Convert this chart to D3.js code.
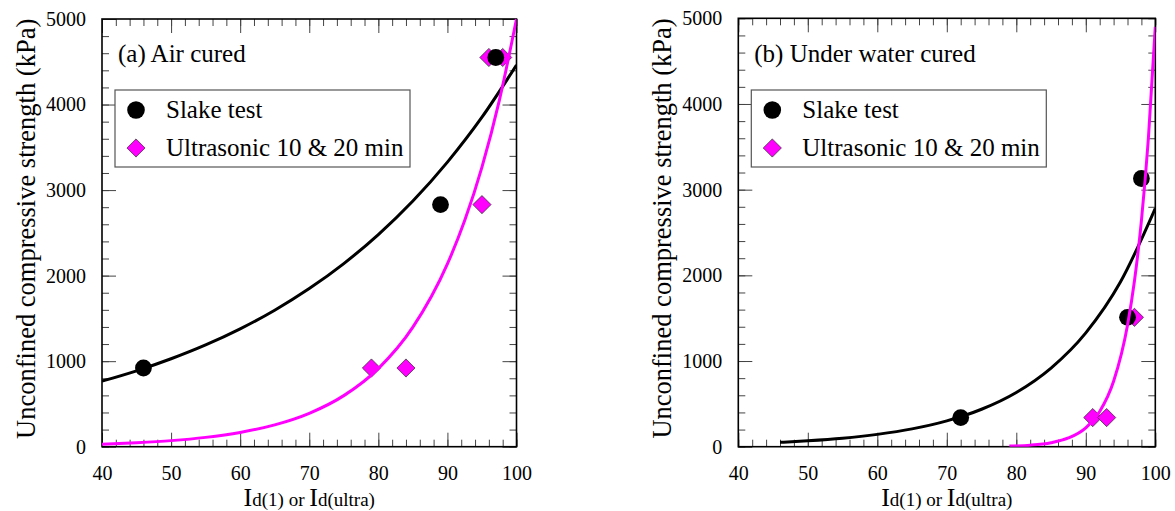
<!DOCTYPE html>
<html>
<head>
<meta charset="utf-8">
<script src="https://cdn.jsdelivr.net/npm/d3@7"></script>
<style>
  body { margin: 0; background: #fff; }
  text { font-family: "Liberation Serif", "Times New Roman", serif; fill: #000; }
</style>
</head>
<body>
<svg id="svg" width="1175" height="511"></svg>
<script>
var xMajor = [40, 50, 60, 70, 80, 90, 100];
var xMinor = d3.range(40, 101, 2);
var yMajor = [0, 1000, 2000, 3000, 4000, 5000];
var yMinor = d3.range(0, 5001, 200);

// (a) air cured
var slakeAx = [46, 89, 97];
var slakeAy = [920, 2830, 4550];
var ultraAx = [79, 84, 95, 96, 98];
var ultraAy = [920, 920, 2830, 4550, 4550];
// trend lines
var fitSlakeAx = [40, 45, 50, 55, 60, 65, 70, 75, 80, 85, 90, 95, 100];
var fitSlakeAy = [766, 887, 1028, 1190, 1378, 1596, 1849, 2141, 2480, 2872, 3327, 3852, 4462];
var fitUltraAx = [40, 45, 50, 55, 60, 65, 70, 75, 80, 85, 90, 92.5, 95, 97.5, 100];
var fitUltraAy = [30, 47, 71, 109, 167, 255, 390, 597, 913, 1397, 2137, 2643, 3269, 4043, 5000];

// (b) under water cured
var slakeBx = [72, 96, 98];
var slakeBy = [340, 1510, 3130];
var ultraBx = [91, 93, 97];
var ultraBy = [340, 340, 1510];
var fitSlakeBx = [46, 50, 55, 60, 65, 70, 75, 80, 85, 90, 95, 100];
var fitSlakeBy = [51, 69, 99, 144, 208, 302, 437, 633, 918, 1329, 1925, 2782];
var fitUltraBx = [79, 82, 85, 87.5, 90, 92, 94, 96, 97, 98, 99, 100];
var fitUltraBy = [7, 18, 47, 102, 221, 410, 763, 1418, 1934, 2636, 3594, 4900];

var svg = d3.select("#svg");
var MAG = "#ff00ff";

var drawPanel = function(p) {
  var x = d3.scaleLinear().domain([40, 100]).range([p.left, p.right]);
  var y = d3.scaleLinear().domain([0, 5000]).range([p.bottom, p.top]);
  var g = svg.append("g");

  var ax = function(gen, tx, ty, vals, size, fmt) {
    var a = g.append("g").attr("transform", "translate(" + tx + "," + ty + ")")
      .call(gen.tickValues(vals).tickSize(size).tickSizeOuter(0).tickFormat(fmt));
    a.select(".domain").remove();
    a.selectAll("line").attr("stroke", "#444").attr("stroke-width", 1);
    return a;
  };
  var none = function() { return ""; };

  ax(d3.axisBottom(x), 0, p.bottom, xMinor, -7, none);
  ax(d3.axisTop(x), 0, p.top, xMinor, -7, none);
  ax(d3.axisLeft(y), p.left, 0, yMinor, -7, none);
  ax(d3.axisRight(y), p.right, 0, yMinor, -7, none);
  ax(d3.axisBottom(x), 0, p.bottom, xMajor, -14, d3.format("d"))
    .call(function(a) { a.selectAll(".tick text").attr("y", 19); });
  ax(d3.axisTop(x), 0, p.top, xMajor, -14, none);
  ax(d3.axisLeft(y), p.left, 0, yMajor, -14, d3.format("d"))
    .call(function(a) { a.selectAll(".tick text").attr("x", -16); });
  ax(d3.axisRight(y), p.right, 0, yMajor, -14, none);
  g.selectAll(".tick text").attr("font-size", 20).attr("font-family", "Liberation Serif").attr("fill", "#000");

  g.append("rect").attr("x", p.left).attr("y", p.top)
    .attr("width", p.right - p.left).attr("height", p.bottom - p.top)
    .attr("fill", "none").attr("stroke", "#000").attr("stroke-width", 1.6);

  var clipId = "clip" + p.id;
  svg.append("clipPath").attr("id", clipId).append("rect")
    .attr("x", p.left).attr("y", p.top - 2).attr("width", p.right - p.left).attr("height", p.bottom - p.top + 2);

  // markers
  var diamond = d3.symbol().type(d3.symbolSquare).size(165);
  g.selectAll(".dia").data(d3.zip(p.ux, p.uy)).enter().append("path")
    .attr("d", diamond)
    .attr("transform", function(d) { return "translate(" + x(d[0]) + "," + y(d[1]) + ") rotate(45)"; })
    .attr("fill", MAG).attr("stroke", "#333").attr("stroke-width", 0.7);
  g.selectAll(".dot").data(d3.zip(p.sx, p.sy)).enter().append("circle")
    .attr("cx", function(d) { return x(d[0]); })
    .attr("cy", function(d) { return y(d[1]); })
    .attr("r", 8.4).attr("fill", "#000");

  // trend lines
  var line = d3.line().x(function(d) { return x(d[0]); }).y(function(d) { return y(d[1]); })
    .curve(d3.curveMonotoneX);
  g.append("path").datum(d3.zip(p.fsx, p.fsy)).attr("d", line)
    .attr("fill", "none").attr("stroke", "#000").attr("stroke-width", 3)
    .attr("clip-path", "url(#" + clipId + ")");
  g.append("path").datum(d3.zip(p.fux, p.fuy)).attr("d", line)
    .attr("fill", "none").attr("stroke", MAG).attr("stroke-width", 3)
    .attr("clip-path", "url(#" + clipId + ")");

  // panel title
  g.append("text").attr("x", p.left + 16).attr("y", 62).attr("font-size", 25).text(p.title);

  // legend
  var lx = p.left + 13, ly0 = 90;
  g.append("rect").attr("x", lx).attr("y", ly0).attr("width", 295).attr("height", 77)
    .attr("fill", "#fff").attr("stroke", "#555").attr("stroke-width", 1.2);
  g.append("circle").attr("cx", lx + 21).attr("cy", ly0 + 20).attr("r", 8.8).attr("fill", "#000");
  g.append("path").attr("d", diamond)
    .attr("transform", "translate(" + (lx + 21) + "," + (ly0 + 58) + ") rotate(45)")
    .attr("fill", MAG).attr("stroke", "#333").attr("stroke-width", 0.7);
  g.append("text").attr("x", lx + 51).attr("y", ly0 + 28).attr("font-size", 25).text("Slake test");
  g.append("text").attr("x", lx + 51).attr("y", ly0 + 66).attr("font-size", 25).text("Ultrasonic 10 & 20 min");

  // axis titles
  var xt = g.append("text").attr("x", (p.left + p.right) / 2).attr("y", 506).attr("text-anchor", "middle");
  xt.append("tspan").attr("font-size", 26).text("I");
  xt.append("tspan").attr("font-size", 19).text("d(1) or ");
  xt.append("tspan").attr("font-size", 26).text("I");
  xt.append("tspan").attr("font-size", 19).text("d(ultra)");

  g.append("text")
    .attr("transform", "translate(" + (p.left - 67) + "," + ((p.top + p.bottom) / 2 - 4) + ") rotate(-90)")
    .attr("text-anchor", "middle").attr("font-size", 26.5)
    .text("Unconfined compressive strength (kPa)");
};

drawPanel({ id: "a", left: 102, right: 516.5, top: 19, bottom: 446.7,
  title: "(a) Air cured",
  sx: slakeAx, sy: slakeAy, ux: ultraAx, uy: ultraAy,
  fsx: fitSlakeAx, fsy: fitSlakeAy, fux: fitUltraAx, fuy: fitUltraAy });
drawPanel({ id: "b", left: 738.3, right: 1155.3, top: 18.3, bottom: 446.7,
  title: "(b) Under water cured",
  sx: slakeBx, sy: slakeBy, ux: ultraBx, uy: ultraBy,
  fsx: fitSlakeBx, fsy: fitSlakeBy, fux: fitUltraBx, fuy: fitUltraBy });
</script>
</body>
</html>
